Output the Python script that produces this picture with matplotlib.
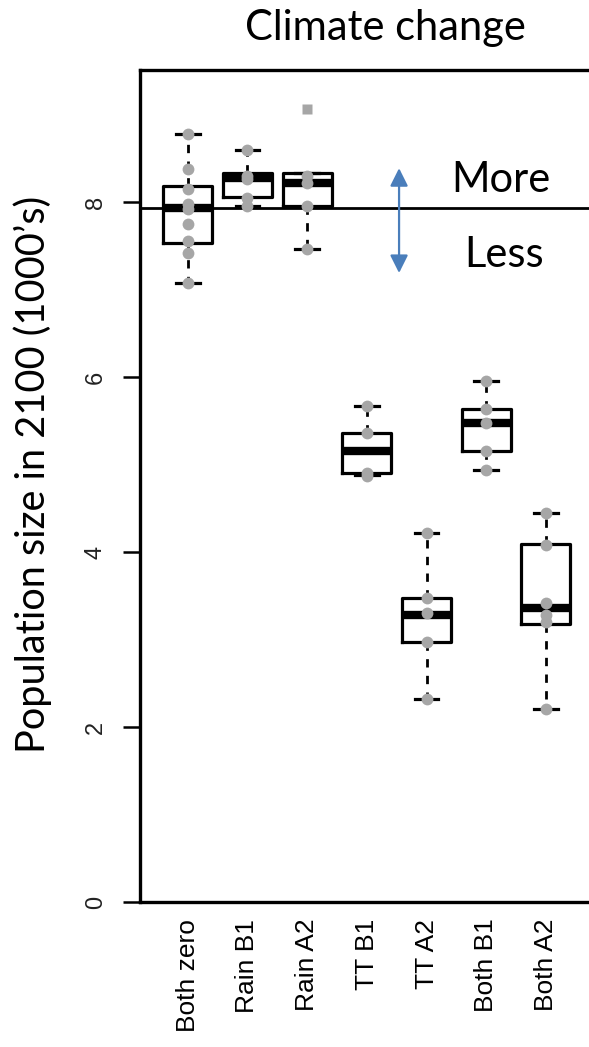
import numpy as np
import matplotlib
matplotlib.use("Agg")
import matplotlib.pyplot as plt

# scenario labels and box statistics (population, 1000's)
scenarios = ["Both zero", "Rain B1", "Rain A2", "TT B1", "TT A2", "Both B1", "Both A2"]
whislo = [7.07, 7.95, 7.46, 4.88, 2.32, 4.94, 2.21]
q1 = [7.53, 8.06, 7.95, 4.90, 2.97, 5.16, 3.18]
med = [7.93, 8.27, 8.22, 5.16, 3.28, 5.47, 3.36]
q3 = [8.18, 8.33, 8.33, 5.36, 3.48, 5.63, 4.09]
whishi = [8.78, 8.59, 8.33, 5.67, 4.22, 5.95, 4.45]

# individual replicate values (grey dots)
runs = [
    [8.78, 8.38, 8.15, 7.98, 7.92, 7.75, 7.55, 7.42, 7.08],
    [8.59, 8.30, 8.26, 8.05, 7.95],
    [8.30, 8.22, 7.95, 7.46],
    [5.67, 5.36, 4.90, 4.87],
    [4.22, 3.48, 3.30, 2.97, 2.32],
    [5.95, 5.63, 5.47, 5.16, 4.94],
    [4.45, 4.08, 3.42, 3.28, 3.20, 2.21],
]
outlier_group = 3
outlier_value = 9.06
baseline = 7.93

W, H = 589, 1047
fig = plt.figure(figsize=(W / 100, H / 100), dpi=100)
ax = fig.add_axes([140 / W, 1 - 902 / H, 453.7 / W, 832 / H])

stats = [
    dict(whislo=a, q1=b, med=c, q3=d, whishi=e, fliers=[])
    for a, b, c, d, e in zip(whislo, q1, med, q3, whishi)
]
pos = np.arange(1, len(scenarios) + 1)
ax.bxp(stats, positions=pos, widths=0.82, showfliers=False,
       boxprops=dict(color="black", lw=2.3),
       medianprops=dict(color="black", lw=6, solid_capstyle="butt"),
       whiskerprops=dict(color="black", lw=2, linestyle=(0, (3, 3))),
       capprops=dict(color="black", lw=2.3),
       capwidths=0.4)

for p, vals in zip(pos, runs):
    ax.plot([p] * len(vals), vals, "o", color="#a6a6a6", ms=8.5, mec="none", zorder=5)
ax.plot([outlier_group], [outlier_value], "s", color="#a6a6a6", ms=6.5, mec="none", zorder=5)

ax.axhline(baseline, color="black", lw=2)

ax.set_xlim(0.2, 7.8)
ax.set_ylim(0, 9.51)
ax.set_yticks([0, 2, 4, 6, 8])
ax.set_yticklabels(["0", "2", "4", "6", "8"], rotation=90, va="center",
                   fontsize=17, color="#222222", family="Liberation Sans")
ax.tick_params(axis="y", length=12, width=1.8, pad=12)
ax.set_xticks(pos)
ax.set_xticklabels(scenarios, rotation=90, fontsize=19, family="Liberation Sans")
ax.tick_params(axis="x", length=0, pad=12)
for s in ax.spines.values():
    s.set_linewidth(2.4)

# annotations
ax.annotate("", xy=(0.571, 0.756), xytext=(0.571, 0.882), xycoords="axes fraction",
            arrowprops=dict(arrowstyle="<|-|>", color="#4a7ebb", lw=1.6,
                            mutation_scale=27, shrinkA=0, shrinkB=0))
ax.text(0.796, 0.853, "More", transform=ax.transAxes, ha="center", va="baseline",
        fontsize=30, family="Lato")
ax.text(0.802, 0.763, "Less", transform=ax.transAxes, ha="center", va="baseline",
        fontsize=30, family="Lato")

fig.text(385 / W, 1 - 40 / H, "Climate change", ha="center", va="baseline",
         fontsize=30, family="Lato")
fig.text(33 / W, 1 - 474 / H, "Population size in 2100 (1000\u2019s)", rotation=90,
         ha="center", va="center", fontsize=28.5, family="Lato")

fig.savefig("out.png", dpi=100)
